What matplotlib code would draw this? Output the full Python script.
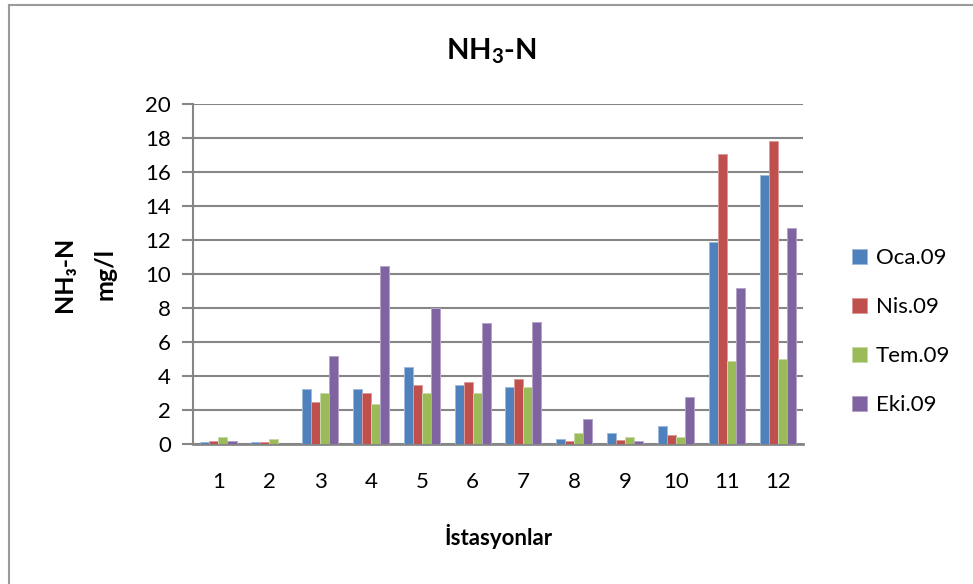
import matplotlib.pyplot as plt
import numpy as np

plt.rcParams['font.family'] = ['Lato', 'DejaVu Sans']
plt.rcParams['mathtext.fontset'] = 'custom'
plt.rcParams['mathtext.rm'] = 'Lato'
plt.rcParams['mathtext.bf'] = 'Lato:bold'

# stations 1..12
stations = [str(i) for i in range(1, 13)]
series_names = ['Oca.09', 'Nis.09', 'Tem.09', 'Eki.09']
oca = [0.10, 0.10, 3.25, 3.25, 4.55, 3.45, 3.35, 0.31, 0.67, 1.04, 11.9, 15.8]
nis = [0.15, 0.13, 2.50, 2.98, 3.49, 3.67, 3.80, 0.20, 0.25, 0.51, 17.05, 17.85]
tem = [0.40, 0.27, 2.98, 2.35, 2.98, 3.02, 3.35, 0.63, 0.43, 0.39, 4.86, 4.98]
eki = [0.15, 0.03, 5.18, 10.5, 8.0, 7.12, 7.17, 1.49, 0.16, 2.76, 9.2, 12.7]

colors = ['#4F81BD', '#C0504D', '#9BBB59', '#8064A2']
edges = ['#9DB9DC', '#DB9A98', '#C6D9A6', '#B4A4C8']

fig = plt.figure(figsize=(9.73, 5.84), dpi=100)
ax = fig.add_axes([0.1984, 0.2397, 0.6269, 0.5822])

x = np.arange(len(stations))
w = 0.1775
for i, (vals, name) in enumerate(zip([oca, nis, tem, eki], series_names)):
    ax.bar(x + (i - 1.5) * w, vals, w, color=colors[i], edgecolor=edges[i],
           linewidth=0.7, label=name, zorder=3)

grid_c = '#868686'
ax.set_ylim(0, 20)
ax.set_xlim(-0.5, len(stations) - 0.5)
ax.set_yticks(range(0, 21, 2))
ax.set_xticks(x)
ax.set_xticklabels(stations)
ax.yaxis.grid(True, color=grid_c, linewidth=1.5, zorder=0)
ax.set_axisbelow(True)
for s in ['top', 'right']:
    ax.spines[s].set_visible(False)
ax.spines['left'].set_color(grid_c)
ax.spines['left'].set_linewidth(1.5)
ax.spines['bottom'].set_color(grid_c)
ax.spines['bottom'].set_linewidth(2)
ax.tick_params(axis='y', length=8, width=1.5, color=grid_c, labelsize=16, pad=8)
ax.tick_params(axis='x', length=0, labelsize=16, pad=20)

ax.set_xlabel('İstasyonlar', fontsize=16, fontweight='bold', labelpad=23)
# y label, two lines placed separately
fig.text(0.066, 0.531, 'NH₃-N', rotation=90, fontsize=18, fontweight='bold',
         ha='center', va='center')
fig.text(0.108, 0.531, 'mg/l', rotation=90, fontsize=18, fontweight='bold',
         ha='center', va='center')
fig.text(0.505, 0.912, r'NH$_\mathbf{3}$-N', fontsize=21, fontweight='bold',
         ha='center', va='center')

leg = ax.legend(loc='center left', bbox_to_anchor=(1.065, 0.33), frameon=False,
                fontsize=16, handlelength=0.68, handleheight=0.68,
                labelspacing=1.3, handletextpad=0.4, borderaxespad=0)

# chart area border (top and left visible)
fig.add_artist(plt.Line2D([0.0093, 1.0], [0.9906, 0.9906], color='#9a9a9a', lw=1.5))
fig.add_artist(plt.Line2D([0.0093, 0.0093], [0.0, 0.9906], color='#9a9a9a', lw=1.5))

fig.savefig('out.png', dpi=100)
